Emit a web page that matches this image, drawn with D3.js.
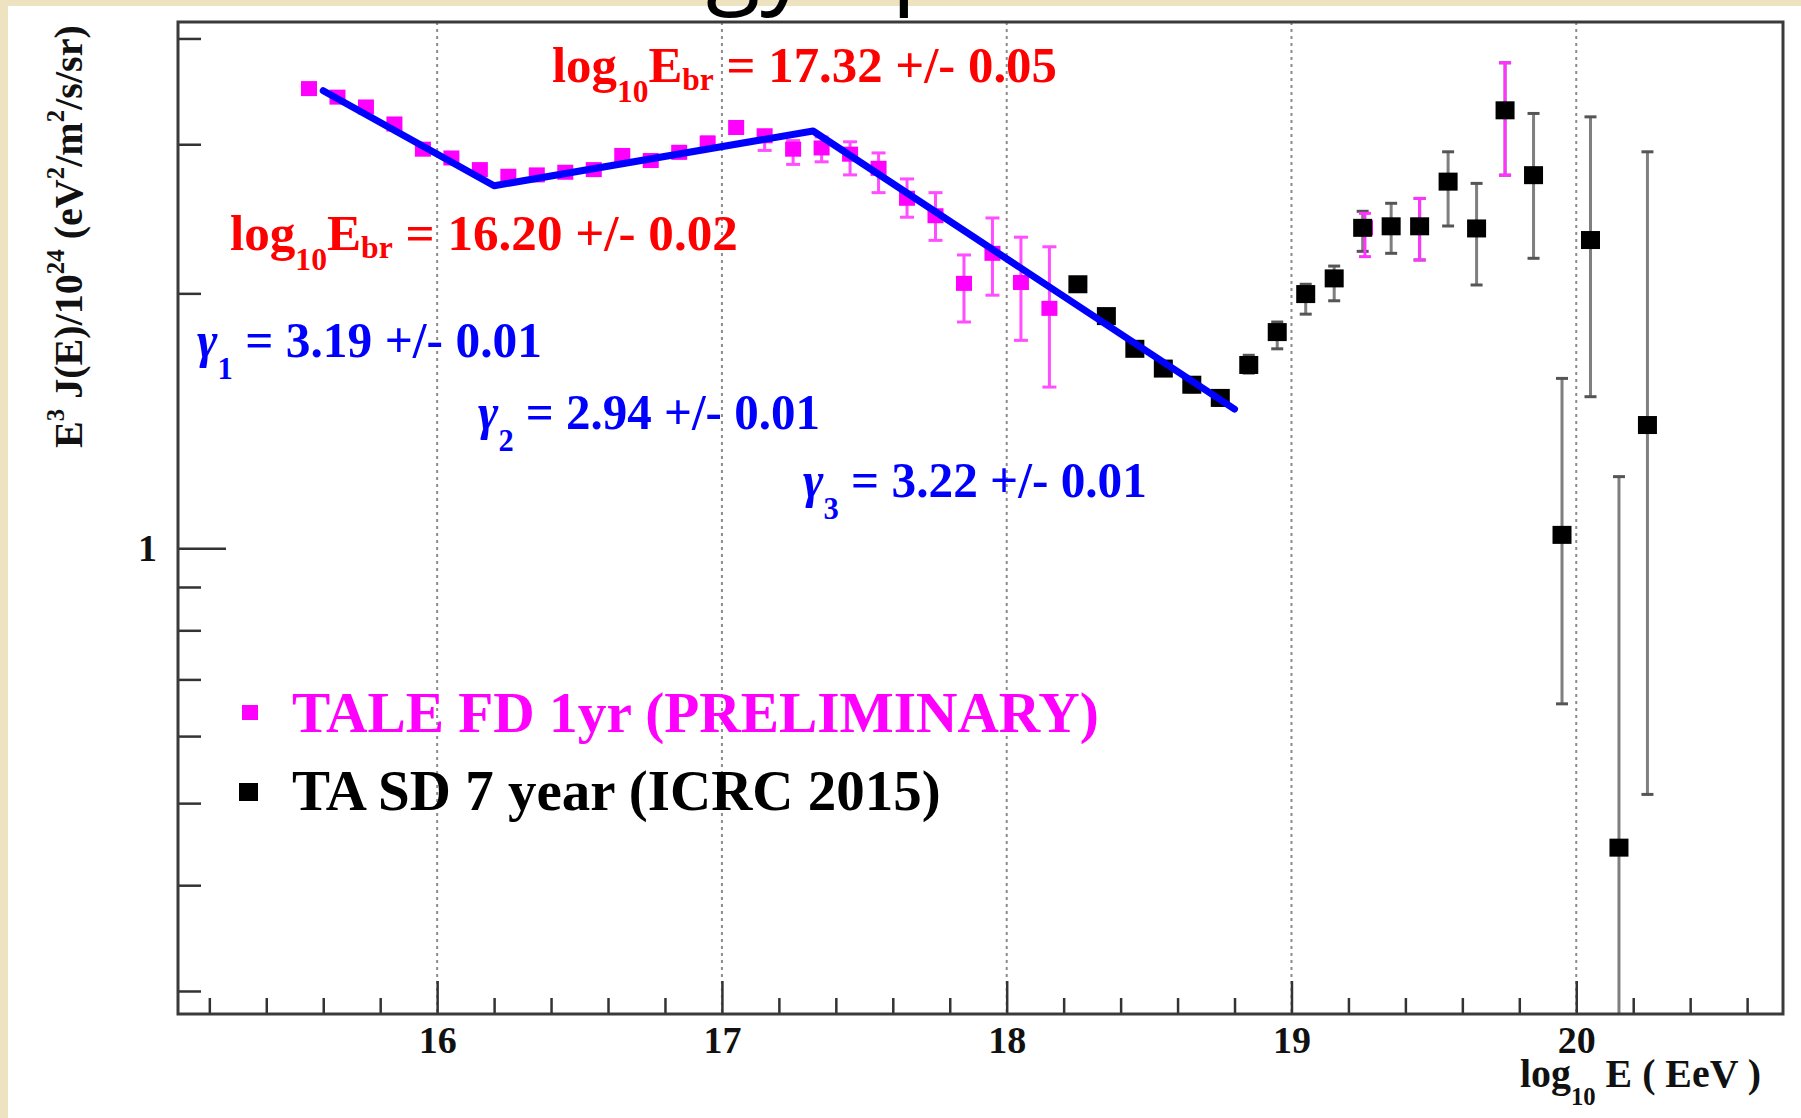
<!DOCTYPE html>
<html>
<head>
<meta charset="utf-8">
<script src="https://cdn.jsdelivr.net/npm/d3@7"></script>
<style>
    html, body { margin: 0; padding: 0; background: #ede3c1; overflow: hidden; }
    svg { display: block; }
    .serif { font-family: "Liberation Serif", "Times New Roman", serif; font-weight: bold; white-space: pre; }
</style>
</head>
<body>
<svg id="chart" width="1801" height="1118"></svg>
<script>
/* jshint esversion: 6 */

// ---- data ------------------------------------------------------------------
// TALE FD 1yr (magenta), log10 E and E^3 J(E)/10^24 with error ends
var taleE    = [15.55, 15.65, 15.75, 15.85, 15.95, 16.05, 16.15, 16.25, 16.35, 16.45, 16.55, 16.65, 16.75, 16.85,
                16.95, 17.05, 17.15, 17.25, 17.35, 17.45, 17.55, 17.65, 17.75, 17.85, 17.95, 18.05, 18.15];
var taleFlux = [3.49, 3.41, 3.32, 3.17, 2.96, 2.89, 2.80, 2.75, 2.76, 2.78, 2.80, 2.91, 2.87, 2.935,
                3.01, 3.14, 3.07, 2.96, 2.97, 2.92, 2.81, 2.59, 2.47, 2.055, 2.23, 2.06, 1.92];
var taleHi   = [3.52, 3.44, 3.35, 3.20, 2.99, 2.92, 2.83, 2.78, 2.79, 2.81, 2.83, 2.95, 2.91, 2.98,
                3.06, 3.19, 3.10, 3.03, 3.06, 3.02, 2.93, 2.73, 2.63, 2.22, 2.455, 2.33, 2.27];
var taleLo   = [3.46, 3.38, 3.29, 3.14, 2.93, 2.86, 2.77, 2.72, 2.73, 2.75, 2.77, 2.87, 2.83, 2.89,
                2.96, 3.09, 2.95, 2.84, 2.86, 2.76, 2.63, 2.46, 2.31, 1.85, 1.99, 1.76, 1.55];

// magenta points hidden under the TA SD squares
var overE    = [19.258, 19.45, 19.75];
var overFlux = [2.39, 2.40, 3.29];
var overHi   = [2.486, 2.589, 3.744];
var overLo   = [2.21, 2.19, 2.758];

// TA SD 7 year (black)
var sdE    = [18.25, 18.35, 18.45, 18.55, 18.65, 18.75, 18.85, 18.95, 19.05, 19.15, 19.25,
              19.35, 19.45, 19.55, 19.65, 19.75, 19.85, 19.95, 20.05, 20.15, 20.25];
var sdFlux = [2.05, 1.88, 1.72, 1.63, 1.56, 1.505, 1.646, 1.80, 1.996, 2.083, 2.39,
              2.40, 2.40, 2.71, 2.386, 3.29, 2.758, 1.037, 2.312, 0.443, 1.398];
var sdHi   = [2.08, 1.91, 1.75, 1.66, 1.59, 1.535, 1.69, 1.85, 2.05, 2.154, 2.50,
              2.555, 2.589, 2.939, 2.697, 3.744, 3.262, 1.587, 3.232, 1.215, 2.939];
var sdLo   = [2.02, 1.85, 1.69, 1.60, 1.53, 1.475, 1.61, 1.72, 1.89, 1.96, 2.242,
              2.23, 2.19, 2.402, 2.046, 2.758, 2.20, 0.655, 1.51, 0.15, 0.512];

// broken power law fit (vertices)
var fitE    = [15.6, 16.2, 17.32, 18.8];
var fitFlux = [3.47, 2.68, 3.11, 1.46];

// ticks
var xMajorTicks = [16, 17, 18, 19, 20];
var xMinorTicks = [15.2, 15.4, 15.6, 15.8, 16.2, 16.4, 16.6, 16.8, 17.2, 17.4, 17.6, 17.8,
                   18.2, 18.4, 18.6, 18.8, 19.2, 19.4, 19.6, 19.8, 20.2, 20.4, 20.6];
var yMajorTicks = [1];
var yMinorTicks = [0.3, 0.4, 0.5, 0.6, 0.7, 0.8, 0.9, 2, 3, 4];

(function()
{
    "use strict";

    var W = 1801, H = 1118;
    var svg = d3.select("#chart");

    // ######################################################################### page
    svg.append("rect").attr("width", W).attr("height", H).attr("fill", "#ede3c1");
    svg.append("rect").attr("x", 8).attr("y", 6).attr("width", W - 8).attr("height", H - 6).attr("fill", "#ffffff");

    // slide title, cut off by the top edge: only the descenders show
    var title = svg.append("text")
        .attr("x", 0).attr("y", -6)
        .style("font-family", "'Open Sans', sans-serif")
        .style("font-size", "100px")
        .attr("fill", "#000")
        .text("Energy Spectrum");
    var gx = title.node().getStartPositionOfChar(4).x;
    title.attr("x", 706 - gx);

    // ######################################################################### scales
    var left = 178, right = 1783, top = 22, bottom = 1014;
    var x = d3.scaleLinear().domain([15.09, 20.726]).range([left, right]);
    var y = d3.scaleLog().domain([0.2818, 4.183]).range([bottom, top]);

    svg.append("clipPath").attr("id", "plotclip")
       .append("rect").attr("x", left).attr("y", top).attr("width", right - left).attr("height", bottom - top);

    var plot = svg.append("g").attr("clip-path", "url(#plotclip)");

    // dotted grid at the decades
    plot.selectAll("line.grid")
        .data(xMajorTicks)
        .enter().append("line")
        .attr("class", "grid")
        .attr("x1", function(d) { return x(d); })
        .attr("x2", function(d) { return x(d); })
        .attr("y1", top).attr("y2", bottom)
        .attr("stroke", "#8c8c8c").attr("stroke-width", 2)
        .attr("stroke-dasharray", "3,4");

    // ######################################################################### marks
    function errorBars(xs, lo, hi, barColor, capColor, cap)
    {
        var g = plot.append("g");
        var idx = d3.range(xs.length);
        g.selectAll("line.bar").data(idx).enter().append("line")
            .attr("x1", function(i) { return x(xs[i]); })
            .attr("x2", function(i) { return x(xs[i]); })
            .attr("y1", function(i) { return y(hi[i]); })
            .attr("y2", function(i) { return y(lo[i]); })
            .attr("stroke", barColor).attr("stroke-width", 3);
        [hi, lo].forEach(function(arr) {
            g.selectAll(null).data(idx).enter().append("line")
                .attr("x1", function(i) { return x(xs[i]) - cap / 2; })
                .attr("x2", function(i) { return x(xs[i]) + cap / 2; })
                .attr("y1", function(i) { return y(arr[i]); })
                .attr("y2", function(i) { return y(arr[i]); })
                .attr("stroke", capColor).attr("stroke-width", 3);
        });
    }

    function squares(xs, ys, color, w, h)
    {
        plot.append("g").selectAll("rect")
            .data(d3.range(xs.length))
            .enter().append("rect")
            .attr("x", function(i) { return x(xs[i]) - w / 2; })
            .attr("y", function(i) { return y(ys[i]) - h / 2; })
            .attr("width", w).attr("height", h)
            .attr("fill", color);
    }

    errorBars(sdE, sdLo, sdHi, "#7f7f7f", "#555555", 12);
    errorBars(taleE, taleLo, taleHi, "#ff4dff", "#ff4dff", 14);
    errorBars(overE, overLo, overHi, "#ff33ff", "#ff33ff", 12);
    squares(taleE, taleFlux, "#ff00ff", 16, 15);
    squares(overE, overFlux, "#ff00ff", 16, 15);
    squares(sdE, sdFlux, "#000000", 19, 18);

    var fitLine = d3.line()
        .x(function(i) { return x(fitE[i]); })
        .y(function(i) { return y(fitFlux[i]); });

    plot.append("path")
        .datum(d3.range(fitE.length))
        .attr("d", fitLine)
        .attr("fill", "none")
        .attr("stroke", "#0000ff")
        .attr("stroke-width", 7)
        .attr("stroke-linejoin", "round")
        .attr("stroke-linecap", "round");

    // ######################################################################### axes
    function styleAxis(g, size)
    {
        g.attr("font-family", null).attr("font-size", null);
        g.select(".domain").remove();
        g.selectAll(".tick line").attr("stroke", "#333").attr("stroke-width", 2.5);
        g.selectAll(".tick text")
            .attr("class", "serif")
            .attr("fill", "#111")
            .style("font-size", size + "px");
    }

    svg.append("g")
        .attr("transform", "translate(0," + bottom + ")")
        .call(d3.axisBottom(x).tickValues(xMinorTicks).tickSizeInner(-16).tickSizeOuter(0)
              .tickFormat(function() { return ""; }))
        .call(styleAxis, 38);

    svg.append("g")
        .attr("transform", "translate(0," + bottom + ")")
        .call(d3.axisBottom(x).tickValues(xMajorTicks).tickSizeInner(-33).tickSizeOuter(0)
              .tickPadding(12).tickFormat(d3.format("d")))
        .call(styleAxis, 38);

    svg.append("g")
        .attr("transform", "translate(" + left + ",0)")
        .call(d3.axisLeft(y).tickValues(yMinorTicks).tickSizeInner(-23).tickSizeOuter(0)
              .tickFormat(function() { return ""; }))
        .call(styleAxis, 38);

    svg.append("g")
        .attr("transform", "translate(" + left + ",0)")
        .call(d3.axisLeft(y).tickValues(yMajorTicks).tickSizeInner(-48).tickSizeOuter(0)
              .tickPadding(21).tickFormat(d3.format("d")))
        .call(styleAxis, 38);

    svg.append("rect")
        .attr("x", left).attr("y", top)
        .attr("width", right - left).attr("height", bottom - top)
        .attr("fill", "none").attr("stroke", "#3a3a3a").attr("stroke-width", 3);

    // ######################################################################### text
    // parts: {t: text, s: relative size, dy: baseline offset, i: italic}; squeezed to a width
    function label(parts, x0, y0, width, size, color, rotate)
    {
        var t = svg.append("text").attr("class", "serif").attr("fill", color)
                   .style("font-size", size + "px");
        var shift = 0;
        parts.forEach(function(p) {
            var dy = p.dy || 0;
            t.append("tspan")
                .attr("dy", dy - shift)
                .style("font-size", (p.s || 1) * size + "px")
                .style("font-style", p.i ? "italic" : null)
                .text(p.t);
            shift = dy;
        });
        var sx = width / t.node().getComputedTextLength();
        t.attr("transform", "translate(" + x0 + "," + y0 + ")" +
               (rotate ? " rotate(-90)" : "") + " scale(" + sx + ",1)");
        return t;
    }

    var SUB = 0.62;
    label([{t: "log"}, {t: "10", s: SUB, dy: 20}, {t: "E"}, {t: "br", s: SUB, dy: 8}, {t: " = 17.32 +/- 0.05"}],
          552, 82, 505, 50, "#ff0000");
    label([{t: "log"}, {t: "10", s: SUB, dy: 20}, {t: "E"}, {t: "br", s: SUB, dy: 8}, {t: " = 16.20 +/- 0.02"}],
          230, 250, 508, 50, "#ff0000");
    label([{t: "\u03b3", i: true}, {t: "1", s: SUB, dy: 22}, {t: " = 3.19 +/- 0.01"}], 197, 357, 345, 50, "#0000ff");
    label([{t: "\u03b3", i: true}, {t: "2", s: SUB, dy: 22}, {t: " = 2.94 +/- 0.01"}], 478, 429, 342, 50, "#0000ff");
    label([{t: "\u03b3", i: true}, {t: "3", s: SUB, dy: 22}, {t: " = 3.22 +/- 0.01"}], 803, 497, 344, 50, "#0000ff");

    // legend
    svg.append("rect").attr("x", 242).attr("y", 705).attr("width", 16).attr("height", 15).attr("fill", "#ff00ff");
    svg.append("rect").attr("x", 239).attr("y", 783).attr("width", 19).attr("height", 18).attr("fill", "#000");
    label([{t: "TALE FD 1yr (PRELIMINARY)"}], 292, 732, 807, 58, "#ff00ff");
    label([{t: "TA SD 7 year (ICRC 2015)"}], 292, 810, 649, 58, "#000");

    // axis titles
    label([{t: "log"}, {t: "10", s: SUB, dy: 18}, {t: " E ( EeV )"}], 1520, 1087, 241, 40, "#111");
    label([{t: "E"}, {t: "3", s: SUB, dy: -18}, {t: " J(E)/10"}, {t: "24", s: SUB, dy: -18},
           {t: " (eV"}, {t: "2", s: SUB, dy: -18}, {t: "/m"}, {t: "2", s: SUB, dy: -18}, {t: "/s/sr)"}],
          82, 448, 423, 40, "#111", true);
}
)();
</script>
</body>
</html>
